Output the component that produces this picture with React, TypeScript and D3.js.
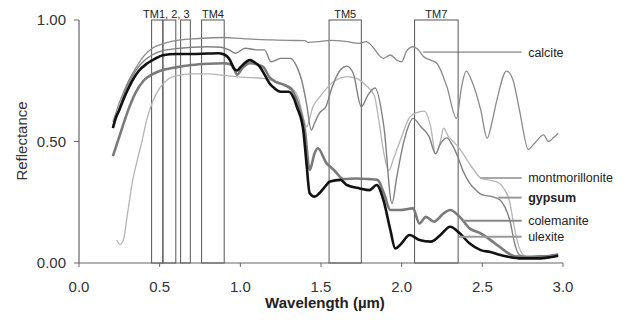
import React from "react";
import * as d3 from "d3";

// ---- data (wavelength in µm, reflectance 0..1) ----
const wavelengthTicks = [0, 0.5, 1, 1.5, 2, 2.5, 3];
const reflectanceTicks = [0, 0.5, 1];

const bandNames = ["TM1", "TM2", "TM3", "TM4", "TM5", "TM7"];
const bandStart = [0.45, 0.52, 0.63, 0.76, 1.55, 2.08];
const bandEnd = [0.52, 0.6, 0.69, 0.9, 1.75, 2.35];
const bandLabels = [
  { text: "TM1, 2, 3", at: 0.397, anchor: "start" },
  { text: "TM4", at: 0.83, anchor: "middle" },
  { text: "TM5", at: 1.65, anchor: "middle" },
  { text: "TM7", at: 2.215, anchor: "middle" },
];

const calcite: [number, number][] = [
  [0.21, 0.58], [0.25, 0.66], [0.3, 0.74], [0.35, 0.8], [0.4, 0.85], [0.45, 0.882],
  [0.5, 0.898], [0.55, 0.908], [0.6, 0.915], [0.7, 0.922], [0.8, 0.926], [0.9, 0.928],
  [1.0, 0.924], [1.1, 0.92], [1.2, 0.918], [1.3, 0.916], [1.4, 0.915], [1.42, 0.908],
  [1.5, 0.912], [1.56, 0.916], [1.65, 0.912], [1.74, 0.904], [1.78, 0.911], [1.82, 0.89],
  [1.86, 0.855], [1.885, 0.842], [1.93, 0.856], [1.97, 0.835], [2.0, 0.828], [2.03, 0.872],
  [2.07, 0.89], [2.1, 0.88], [2.135, 0.85], [2.18, 0.835], [2.22, 0.82], [2.28, 0.726],
  [2.34, 0.595], [2.37, 0.72], [2.4, 0.79], [2.44, 0.74], [2.49, 0.63], [2.53, 0.513],
  [2.56, 0.58], [2.59, 0.67], [2.65, 0.79], [2.69, 0.753], [2.73, 0.63], [2.785, 0.468],
  [2.82, 0.49], [2.88, 0.527], [2.91, 0.5], [2.94, 0.515], [2.97, 0.534],
];

const montmorillonite: [number, number][] = [
  [0.234, 0.095], [0.254, 0.077], [0.275, 0.095], [0.3, 0.2], [0.33, 0.33], [0.36, 0.42],
  [0.39, 0.5], [0.42, 0.59], [0.46, 0.67], [0.5, 0.72], [0.55, 0.755], [0.6, 0.77],
  [0.7, 0.778], [0.8, 0.778], [0.9, 0.772], [1.0, 0.765], [1.14, 0.76], [1.25, 0.74],
  [1.32, 0.72], [1.36, 0.68], [1.39, 0.6], [1.41, 0.56], [1.45, 0.643], [1.5, 0.69],
  [1.55, 0.73], [1.6, 0.755], [1.66, 0.767], [1.72, 0.76], [1.78, 0.73], [1.83, 0.69],
  [1.86, 0.58], [1.89, 0.45], [1.92, 0.38], [1.95, 0.43], [2.0, 0.52], [2.05, 0.6],
  [2.1, 0.62], [2.14, 0.625], [2.18, 0.56], [2.21, 0.45], [2.24, 0.5], [2.26, 0.555],
  [2.29, 0.52], [2.32, 0.5], [2.36, 0.47], [2.4, 0.43], [2.45, 0.38], [2.49, 0.35],
  [2.55, 0.34], [2.6, 0.33], [2.64, 0.3], [2.67, 0.25], [2.69, 0.177], [2.72, 0.081],
  [2.755, 0.033], [2.8, 0.022], [2.87, 0.028], [2.93, 0.03], [2.97, 0.035],
];

const gypsum: [number, number][] = [
  [0.21, 0.565], [0.25, 0.64], [0.3, 0.73], [0.35, 0.79], [0.4, 0.83], [0.45, 0.855],
  [0.5, 0.87], [0.6, 0.882], [0.7, 0.888], [0.8, 0.89], [0.88, 0.888], [0.93, 0.877],
  [0.97, 0.863], [1.03, 0.884], [1.1, 0.877], [1.15, 0.877], [1.19, 0.828], [1.25, 0.842],
  [1.31, 0.842], [1.35, 0.808], [1.38, 0.753], [1.41, 0.657], [1.44, 0.547], [1.46, 0.576],
  [1.49, 0.617], [1.53, 0.643], [1.57, 0.726], [1.62, 0.794], [1.66, 0.81], [1.7, 0.78],
  [1.75, 0.643], [1.79, 0.69], [1.835, 0.72], [1.89, 0.56], [1.94, 0.245], [1.97, 0.355],
  [2.01, 0.49], [2.04, 0.56], [2.07, 0.595], [2.12, 0.56], [2.17, 0.52], [2.21, 0.45],
  [2.24, 0.49], [2.28, 0.515], [2.31, 0.49], [2.34, 0.45], [2.38, 0.38], [2.42, 0.33],
  [2.46, 0.3], [2.5, 0.28], [2.56, 0.273], [2.61, 0.259], [2.64, 0.23], [2.67, 0.177],
  [2.7, 0.081], [2.73, 0.033], [2.78, 0.025], [2.85, 0.03], [2.92, 0.03], [2.97, 0.035],
];

const colemanite: [number, number][] = [
  [0.21, 0.44], [0.25, 0.52], [0.3, 0.62], [0.35, 0.7], [0.4, 0.75], [0.45, 0.775],
  [0.5, 0.79], [0.6, 0.805], [0.7, 0.815], [0.8, 0.82], [0.9, 0.822], [0.95, 0.815],
  [0.98, 0.775], [1.01, 0.8], [1.06, 0.822], [1.14, 0.808], [1.18, 0.765], [1.22, 0.745],
  [1.27, 0.733], [1.32, 0.712], [1.37, 0.63], [1.4, 0.547], [1.43, 0.383], [1.46, 0.451],
  [1.48, 0.472], [1.535, 0.41], [1.58, 0.383], [1.64, 0.345], [1.72, 0.348], [1.8, 0.345],
  [1.85, 0.342], [1.89, 0.287], [1.93, 0.218], [1.99, 0.218], [2.07, 0.225], [2.11, 0.163],
  [2.15, 0.19], [2.2, 0.17], [2.26, 0.204], [2.3, 0.218], [2.36, 0.19], [2.42, 0.143],
  [2.49, 0.122], [2.55, 0.095], [2.6, 0.07], [2.65, 0.045], [2.7, 0.028], [2.8, 0.025],
  [2.9, 0.028], [2.97, 0.035],
];

const ulexite: [number, number][] = [
  [0.21, 0.555], [0.23, 0.6], [0.25, 0.63], [0.28, 0.68], [0.3, 0.71], [0.33, 0.75],
  [0.37, 0.79], [0.42, 0.82], [0.47, 0.84], [0.52, 0.855], [0.6, 0.86], [0.7, 0.86],
  [0.8, 0.862], [0.86, 0.863], [0.9, 0.858], [0.936, 0.835], [0.96, 0.8], [0.98, 0.792],
  [1.0, 0.805], [1.06, 0.835], [1.09, 0.825], [1.12, 0.808], [1.15, 0.775], [1.18, 0.74],
  [1.21, 0.72], [1.25, 0.705], [1.3, 0.705], [1.33, 0.68], [1.35, 0.643], [1.39, 0.547],
  [1.41, 0.41], [1.43, 0.287], [1.46, 0.273], [1.49, 0.287], [1.52, 0.31], [1.556, 0.335],
  [1.62, 0.342], [1.66, 0.321], [1.74, 0.307], [1.8, 0.3], [1.845, 0.321], [1.887, 0.259],
  [1.93, 0.136], [1.96, 0.06], [1.99, 0.074], [2.05, 0.115], [2.11, 0.095], [2.18, 0.088],
  [2.24, 0.115], [2.3, 0.149], [2.36, 0.122], [2.42, 0.081], [2.49, 0.053], [2.55, 0.045],
  [2.6, 0.035], [2.66, 0.026], [2.74, 0.019], [2.85, 0.019], [2.92, 0.024], [2.97, 0.03],
];

const seriesNames = ["montmorillonite", "calcite", "gypsum", "colemanite", "ulexite"];
const seriesData = [montmorillonite, calcite, gypsum, colemanite, ulexite];

// annotation anchors (data units): label level, leader start wavelength
const labelNames = ["calcite", "montmorillonite", "gypsum", "colemanite", "ulexite"];
const labelLevel = [0.868, 0.35, 0.269, 0.174, 0.108];
const leaderFrom = [2.133, 2.486, 2.598, 2.38, 2.35];
const leaderTo = 2.744;
const labelAt = 2.784;

export default function App() {
  const W = 630;
  const H = 320;
  const x = d3.scaleLinear().domain([0, 3]).range([79, 563]);
  const y = d3.scaleLinear().domain([0, 1]).range([263, 20]);
  const line = d3
    .line<[number, number]>()
    .x((d) => x(d[0]))
    .y((d) => y(d[1]))
    .curve(d3.curveMonotoneX);

  const font = "'Liberation Sans', Arial, sans-serif";
  const styles: Record<string, { stroke: string; width: number }> = {
    montmorillonite: { stroke: "#b4b4b4", width: 1.3 },
    calcite: { stroke: "#8a8a8a", width: 1.3 },
    gypsum: { stroke: "#808080", width: 1.4 },
    colemanite: { stroke: "#7a7a7a", width: 2.6 },
    ulexite: { stroke: "#111", width: 2.6 },
  };
  const leaderStyles: Record<string, { stroke: string; width: number }> = {
    calcite: { stroke: "#666", width: 1 },
    montmorillonite: { stroke: "#a8a8a8", width: 2 },
    gypsum: { stroke: "#999", width: 2 },
    colemanite: { stroke: "#888", width: 2 },
    ulexite: { stroke: "#999", width: 2 },
  };

  return (
    <svg
      width={W}
      height={H}
      style={{ position: "absolute", left: 0, top: 0, background: "#fff" }}
      fontFamily={font}
    >
      {/* bands */}
      {bandNames.map((n, i) => (
        <rect
          key={n}
          x={x(bandStart[i])}
          y={y(1)}
          width={x(bandEnd[i]) - x(bandStart[i])}
          height={y(0) - y(1)}
          fill="none"
          stroke="#555"
          strokeWidth={1}
        />
      ))}
      {bandLabels.map((b) => (
        <text
          key={b.text}
          x={x(b.at)}
          y={18}
          fontSize={11}
          fill="#222"
          textAnchor={b.anchor}
        >
          {b.text}
        </text>
      ))}

      {/* series */}
      {seriesNames.map((n, i) => (
        <path
          key={n}
          d={line(seriesData[i]) || ""}
          fill="none"
          stroke={styles[n].stroke}
          strokeWidth={styles[n].width}
          strokeLinejoin="round"
        />
      ))}

      {/* axes */}
      <line x1={x(0)} x2={x(3)} y1={y(0)} y2={y(0)} stroke="#666" strokeWidth={1.2} />
      <line x1={x(0)} x2={x(0)} y1={y(0)} y2={y(1)} stroke="#666" strokeWidth={1.2} />
      {wavelengthTicks.map((t) => (
        <g key={"xt" + t}>
          <line x1={x(t)} x2={x(t)} y1={y(0)} y2={y(0) + 4} stroke="#666" />
          <text x={x(t)} y={292} fontSize={15} textAnchor="middle" fill="#333">
            {t.toFixed(1)}
          </text>
        </g>
      ))}
      {reflectanceTicks.map((t) => (
        <g key={"yt" + t}>
          <line x1={x(0) - 5} x2={x(0)} y1={y(t)} y2={y(t)} stroke="#666" />
          <text x={66} y={y(t) + 5} fontSize={15} textAnchor="end" fill="#333">
            {t.toFixed(2)}
          </text>
        </g>
      ))}
      <text x={325} y={308} fontSize={15} fontWeight="bold" textAnchor="middle" fill="#222">
        Wavelength (µm)
      </text>
      <text
        transform={`translate(27,${141}) rotate(-90)`}
        fontSize={15}
        textAnchor="middle"
        fill="#333"
      >
        Reflectance
      </text>

      {/* labels */}
      {labelNames.map((n, i) => (
        <g key={"lb" + n}>
          <line
            x1={x(leaderFrom[i])}
            x2={x(leaderTo)}
            y1={y(labelLevel[i])}
            y2={y(labelLevel[i])}
            stroke={leaderStyles[n].stroke}
            strokeWidth={leaderStyles[n].width}
          />
          <text
            x={x(labelAt)}
            y={y(labelLevel[i]) + 4.5}
            fontSize={12.5}
            fill="#222"
            fontWeight={n === "gypsum" ? "bold" : "normal"}
          >
            {n}
          </text>
        </g>
      ))}
    </svg>
  );
}
